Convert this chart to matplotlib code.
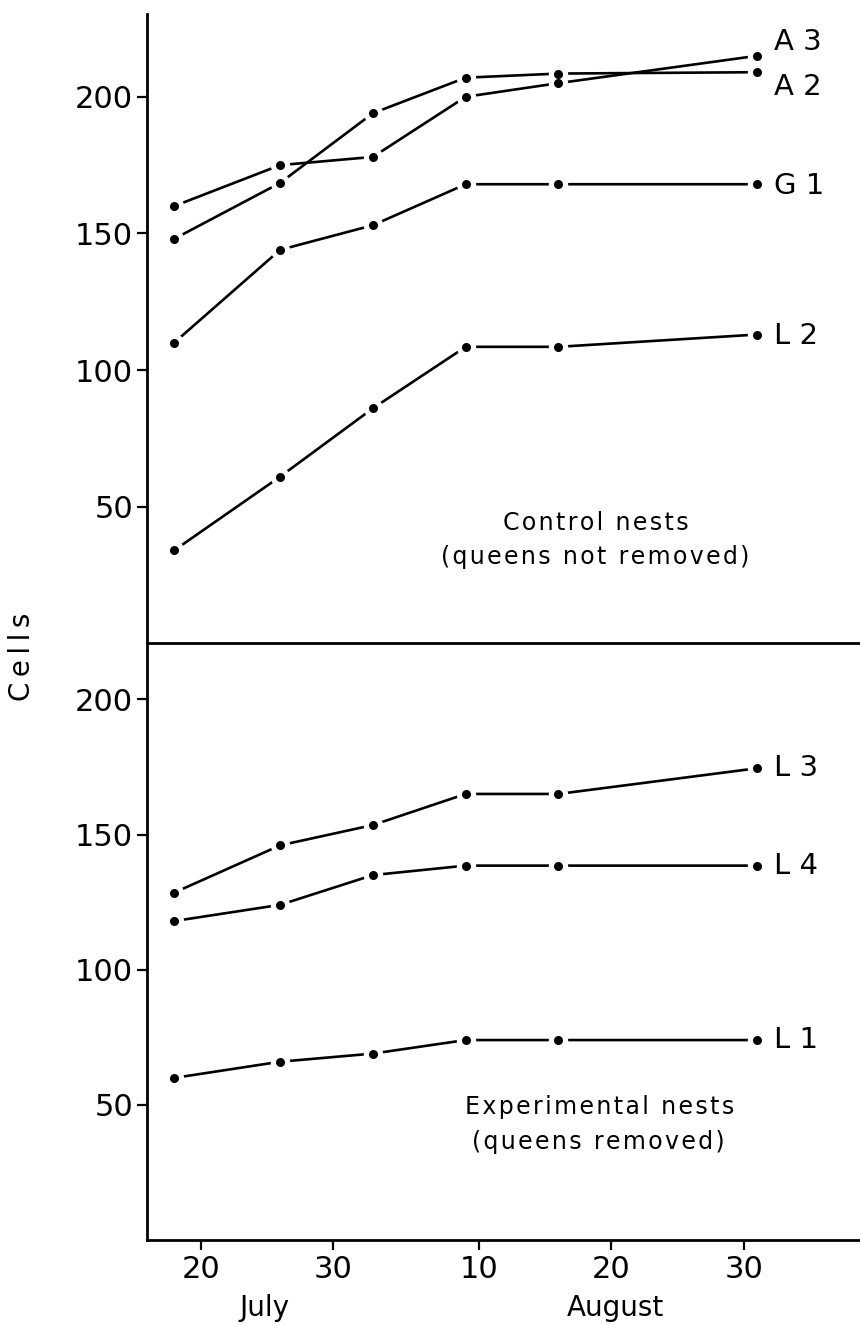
import matplotlib
matplotlib.use('Agg')
import matplotlib.pyplot as plt

plt.rcParams['font.family'] = ['DejaVu Sans']

# sampling dates, counted as days from 1 July (31 = 31 July, 40 = 9 August ...)
days = [18, 26, 33, 40, 47, 62]

# control nests (queens not removed)
a3 = [160, 175, 178, 200, 205, 215]
a2 = [148, 168.5, 194, 207, 208.5, 209]
g1 = [110, 144, 153, 168, 168, 168]
l2 = [34, 61, 86, 108.5, 108.5, 113]

# experimental nests (queens removed)
l3 = [128.5, 146, 153.5, 165, 165, 174.5]
l4 = [118, 124, 135, 138.5, 138.5, 138.5]
l1 = [60, 66, 69, 74, 74, 74]

top_series = [a3, a2, g1, l2]
top_names = ['A 3', 'A 2', 'G 1', 'L 2']
top_label_y = [220, 203.5, 167.5, 112.5]
bot_series = [l3, l4, l1]
bot_names = ['L 3', 'L 4', 'L 1']
bot_label_y = [174.5, 138.5, 74]

xtick_days = [20, 30, 41, 51, 61]
xtick_labels = ['20', '30', '10', '20', '30']
yticks = [50, 100, 150, 200]


def spaced(s, gap='\u200a'):
    # wide letter spacing like the lettering stencil
    return gap.join(s)


W, H = 860, 1325
fig = plt.figure(figsize=(W / 100, H / 100), dpi=100)

left = 147 / W
ax_top = fig.add_axes([left, 1 - 643.3 / H, 1 - left, (643.3 - 14) / H])
ax_bot = fig.add_axes([left, 1 - 1240.2 / H, 1 - left, (1240.2 - 643.3) / H])
ax_bot.patch.set_visible(False)

xlim = (15.95, 69.76)


def draw_panel(ax, series, names, label_y):
    for vals in series:
        ax.plot(days, vals, color='black', lw=1.9, solid_capstyle='butt', zorder=2)
    # white halo leaves a small gap between each line and its dot
    for vals in series:
        ax.plot(days, vals, ls='none', marker='o', ms=14, mfc='white',
                mec='white', mew=0, zorder=3)
    for vals in series:
        ax.plot(days, vals, ls='none', marker='o', ms=6.5, mfc='black',
                mec='black', mew=0, zorder=4)
    for vals, name, ly in zip(series, names, label_y):
        ax.text(days[-1] + 1.25, ly, name, ha='left', va='center', fontsize=21)
    ax.set_xlim(*xlim)
    ax.set_yticks(yticks)
    ax.set_yticklabels([str(v) for v in yticks])
    ax.tick_params(axis='y', direction='out', length=7, width=1.6, pad=3,
                   labelsize=22)
    for s in ['top', 'right']:
        ax.spines[s].set_visible(False)
    for s in ['left', 'bottom']:
        ax.spines[s].set_linewidth(2.0)


draw_panel(ax_top, top_series, top_names, top_label_y)
ax_top.set_ylim(0, 230.3)
ax_top.tick_params(axis='x', bottom=False, labelbottom=False)
ax_top.text(49.8, 44, spaced('Control nests'), ha='center', va='center',
            fontsize=17)
ax_top.text(49.8, 31.6, spaced('(queens not removed)'), ha='center',
            va='center', fontsize=17)

draw_panel(ax_bot, bot_series, bot_names, bot_label_y)
ax_bot.set_ylim(0, 220.7)
ax_bot.set_xticks(xtick_days)
ax_bot.set_xticklabels(xtick_labels)
ax_bot.tick_params(axis='x', direction='out', length=7, width=1.6, pad=4,
                   labelsize=22)
ax_bot.text(50.1, 49.4, spaced('Experimental nests'), ha='center',
            va='center', fontsize=17)
ax_bot.text(50.0, 36.4, spaced('(queens removed)'), ha='center',
            va='center', fontsize=17)

# month names under the date ticks
xt = ax_bot.get_xaxis_transform()
ax_bot.text(24.85, -0.1136, 'July', transform=xt, ha='center', va='center',
            fontsize=20)
ax_bot.text(51.3, -0.1136, 'August', transform=xt, ha='center', va='center',
            fontsize=20)

fig.text(22 / W, 1 - 657 / H, spaced('Cells', '\u2009'), rotation=90,
         ha='center', va='center', fontsize=20)

fig.savefig('out.png', dpi=100)
